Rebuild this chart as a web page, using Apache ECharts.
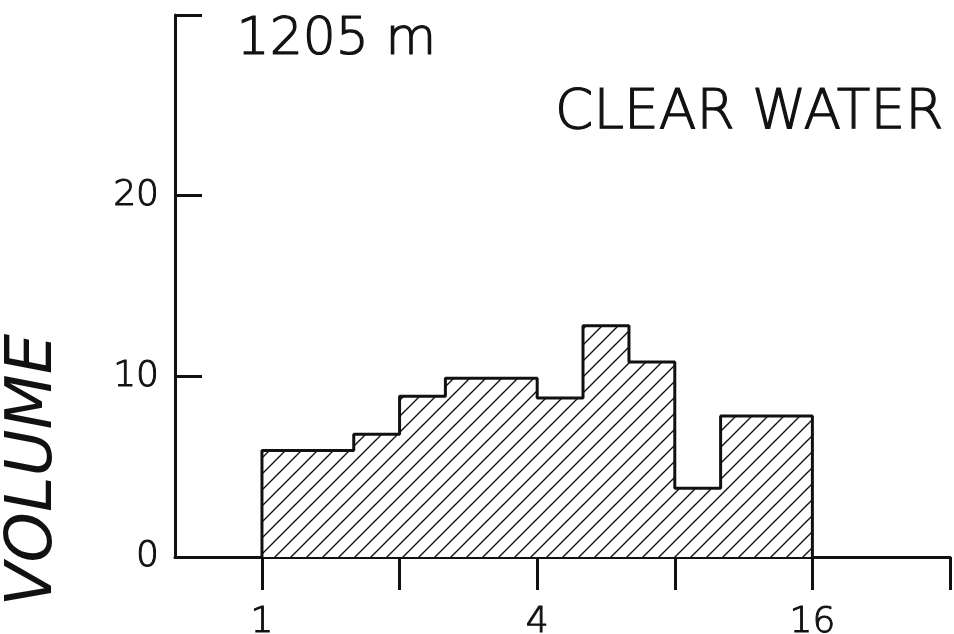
<!DOCTYPE html>
<html style="height: 100%">
<head>
<meta charset="utf-8">
<script src="https://cdn.jsdelivr.net/npm/echarts@6/dist/echarts.min.js"></script>
</head>
<body style="height: 100%; margin: 0; background: #fff">
<div id="container" style="width: 954px; height: 634px"></div>
<script type="text/javascript">
// bin edges on a log2 scale (1/3 octave bins), size 1 .. 16
var binEdges = [0, 0.333, 0.667, 1, 1.333, 1.667, 2, 2.333, 2.667, 3, 3.333, 3.667, 4];
var volume = [5.9, 5.9, 6.8, 8.9, 9.9, 9.9, 8.8, 12.8, 10.8, 3.8, 7.8, 7.8];
var xTicks = [0, 1, 2, 3, 4, 5];
var xLabelPos = [0, 2, 4];
var xLabels = ['1', '4', '16'];
var yTicks = [0, 10, 20, 30];
var yLabels = ['0', '10', '20', ''];

var FONT = '"DejaVu Sans"';

// hatch pattern
var hatch = document.createElement('canvas');
hatch.width = 16; hatch.height = 16;
var hc = hatch.getContext('2d');
hc.fillStyle = '#fff';
hc.fillRect(0, 0, 16, 16);
hc.strokeStyle = '#111';
hc.lineWidth = 1.4;
hc.beginPath();
hc.moveTo(-2, 18); hc.lineTo(18, -2);
hc.moveTo(-2, 2); hc.lineTo(2, -2);
hc.moveTo(14, 18); hc.lineTo(18, 14);
hc.stroke();

// step outline points
var pts = [[binEdges[0], 0]];
for (var i = 0; i < volume.length; i++) {
    pts.push([binEdges[i], volume[i]]);
}
pts.push([binEdges[binEdges.length - 1], volume[volume.length - 1]]);
pts.push([binEdges[binEdges.length - 1], 0]);

var dom = document.getElementById('container');
var myChart = echarts.init(dom);
var option = {
    animation: false,
    backgroundColor: '#fff',
    grid: {left: 175, right: 4, top: 15, bottom: 77, outerBoundsMode: 'none', containLabel: false},
    xAxis: {
        type: 'value',
        min: -0.632,
        max: 5,
        splitLine: {show: false},
        axisLine: {onZero: false, lineStyle: {color: '#111', width: 3}},
        axisTick: {show: true, customValues: xTicks, length: 33, inside: false,
            lineStyle: {color: '#111', width: 3}},
        axisLabel: {
            customValues: xLabelPos,
            margin: 48,
            color: '#111',
            fontFamily: FONT,
            fontWeight: 200,
            fontSize: 36,
            textBorderColor: '#111',
            textBorderWidth: 1,
            formatter: function (v) {
                return xLabels[xLabelPos.indexOf(v)];
            }
        }
    },
    yAxis: {
        type: 'value',
        min: 0,
        max: 30,
        interval: 10,
        splitLine: {show: false},
        axisLine: {show: true, onZero: false, lineStyle: {color: '#111', width: 3}},
        axisTick: {show: true, inside: true, length: 27, lineStyle: {color: '#111', width: 3}},
        axisLabel: {
            margin: 16,
            color: '#111',
            fontFamily: FONT,
            fontWeight: 200,
            fontSize: 36,
            textBorderColor: '#111',
            textBorderWidth: 1,
            formatter: function (v) {
                return yLabels[yTicks.indexOf(v)];
            }
        }
    },
    graphic: [
        {type: 'text', left: 236, top: 14,
            style: {text: '1205 m', font: '200 52px ' + FONT, fill: '#111',
                stroke: '#111', lineWidth: 1.2}},
        {type: 'text', right: 10, top: 86,
            style: {text: 'CLEAR WATER', font: '200 55px ' + FONT, fill: '#111',
                stroke: '#111', lineWidth: 1.2}},
        {type: 'text', x: 34, y: 470, rotation: Math.PI / 2,
            style: {text: 'VOLUME', font: 'italic 64px ' + FONT, fill: '#111',
                align: 'center', verticalAlign: 'middle'}}
    ],
    series: [{
        type: 'line',
        step: 'end',
        data: pts,
        symbol: 'none',
        lineStyle: {color: '#111', width: 3},
        areaStyle: {color: {image: hatch, repeat: 'repeat'}, opacity: 1}
    }]
};
myChart.setOption(option);
</script>
</body>
</html>
